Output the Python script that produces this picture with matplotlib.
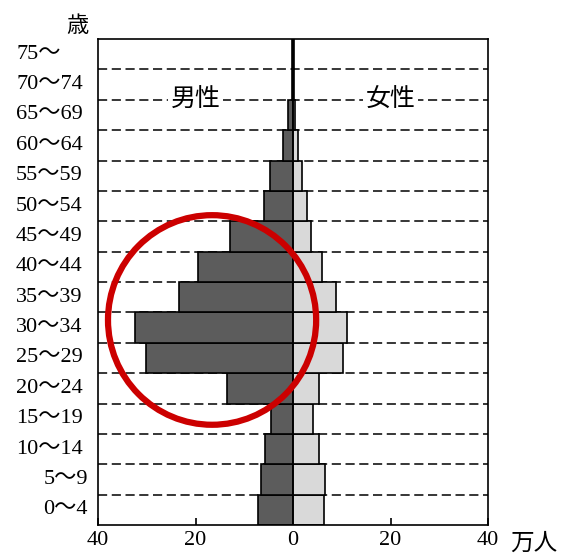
import matplotlib
matplotlib.use("Agg")
import matplotlib.pyplot as plt
from matplotlib.patches import Ellipse

# age groups from bottom to top
age_groups = ["0～4", "5～9", "10～14", "15～19", "20～24", "25～29", "30～34",
              "35～39", "40～44", "45～49", "50～54", "55～59", "60～64",
              "65～69", "70～74", "75～"]
# population, 10k people
male = [7.2, 6.6, 5.7, 4.5, 13.6, 30.2, 32.4, 23.3, 19.5, 12.9, 5.9, 4.7, 2.0, 1.0, 0.3, 0.3]
female = [6.4, 6.5, 5.4, 4.2, 5.4, 10.2, 11.0, 8.8, 6.0, 3.7, 2.9, 1.9, 1.1, 0.5, 0.3, 0.3]
x_ticks = [-40, -20, 0, 20, 40]
x_tick_labels = ["40", "20", "0", "20", "40"]

num_font = ["Liberation Serif", "Noto Sans CJK JP"]
cjk_font = ["Noto Sans CJK JP"]

fig = plt.figure(figsize=(5.69, 5.53), dpi=100)
ax = fig.add_axes([98 / 569, 1 - 525 / 553, 390 / 569, 486 / 553])

ypos = list(range(len(age_groups)))

# dashed separators between age groups
for i in range(len(age_groups) - 1):
    ax.axhline(i + 0.5, color="black", lw=1.1, ls=(0, (6, 3)), zorder=1)

ax.barh(ypos, [-v for v in male], height=1.0, color="#5c5c5c",
        edgecolor="black", lw=1.2, zorder=2)
ax.barh(ypos, female, height=1.0, color="#d9d9d9",
        edgecolor="black", lw=1.2, zorder=2)
ax.axvline(0, color="black", lw=1.2, zorder=3)

ax.set_xlim(-40, 40)
ax.set_ylim(-0.5, len(age_groups) - 0.5)

# group labels over the dashed lines
ax.text(-20, 13.5, "男性", family=cjk_font, fontsize=18, ha="center", va="center",
        bbox=dict(facecolor="white", edgecolor="none", pad=2), zorder=4)
ax.text(20, 13.5, "女性", family=cjk_font, fontsize=18, ha="center", va="center",
        bbox=dict(facecolor="white", edgecolor="none", pad=2), zorder=4)

# age labels: left aligned, short ones right aligned
ytrans = ax.get_yaxis_transform()
for y, lab in zip(ypos, age_groups):
    if lab in ("0～4", "5～9"):
        ax.text(-0.026, y, lab, transform=ytrans, family=num_font, fontsize=16,
                ha="right", va="center")
    else:
        ax.text(-0.21, y, lab, transform=ytrans, family=num_font, fontsize=16,
                ha="left", va="center")
ax.set_yticks([])

ax.set_xticks(x_ticks)
ax.set_xticklabels(x_tick_labels, family=num_font, fontsize=16)
ax.tick_params(axis="x", direction="in", length=5, width=1.2, pad=4)

fig.text(77 / 569, 1 - 25 / 553, "歳", family=cjk_font, fontsize=16, ha="center", va="center")
fig.text(534 / 569, 1 - 543 / 553, "万人", family=cjk_font, fontsize=17, ha="center", va="center")

for sp in ax.spines.values():
    sp.set_linewidth(1.2)

# red circle highlighting the young adult male bulge
ax.add_patch(Ellipse((-16.6, 6.25), 42.7, 6.9, fill=False, edgecolor="#cc0000",
                     lw=4.5, zorder=5))

fig.savefig("out.png", dpi=100)
